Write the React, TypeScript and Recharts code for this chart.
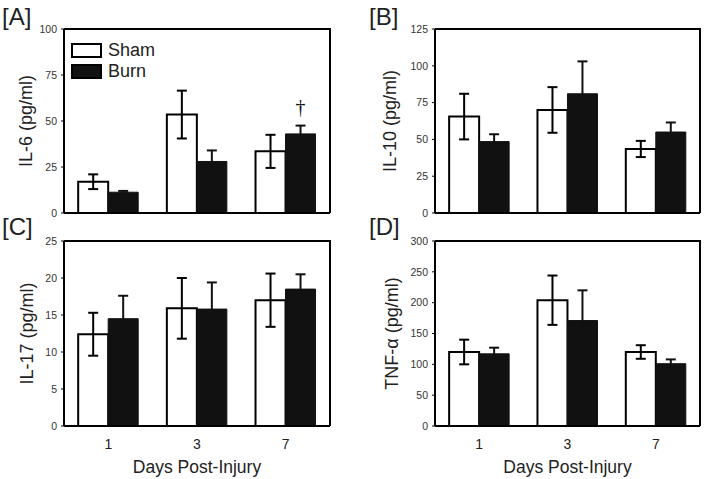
import React from "react";
import { BarChart, Bar, XAxis, YAxis, ErrorBar, Legend, LabelList, Label } from "recharts";

const FONT = "'Liberation Sans', Arial, sans-serif";

const days = ["1", "3", "7"];

const il6Sham = [17, 53.5, 33.5];
const il6ShamErr = [4, 13, 9];
const il6Burn = [11.3, 28, 43];
const il6BurnErr = [0.7, 6, 4.5];
const il6BurnMark = ["", "", "†"];

const il10Sham = [65.5, 70, 43.5];
const il10ShamErr = [15.5, 15.5, 5.5];
const il10Burn = [48.5, 81, 55];
const il10BurnErr = [5, 22, 6.5];

const il17Sham = [12.4, 15.9, 17];
const il17ShamErr = [2.9, 4.1, 3.6];
const il17Burn = [14.5, 15.8, 18.5];
const il17BurnErr = [3.1, 3.6, 2];

const tnfSham = [120, 204, 120];
const tnfShamErr = [20, 40, 11];
const tnfBurn = [117, 171, 101];
const tnfBurnErr = [10, 49, 7];

const il6Ticks = [0, 25, 50, 75, 100];
const il10Ticks = [0, 25, 50, 75, 100, 125];
const il17Ticks = [0, 5, 10, 15, 20, 25];
const tnfTicks = [0, 50, 100, 150, 200, 250, 300];

const legendOrder = ["sham", "burn"];

function build(sham: number[], shamErr: number[], burn: number[], burnErr: number[], marks?: string[]) {
  return days.map((d, i) => ({
    day: d,
    sham: sham[i],
    shamErr: shamErr[i],
    burn: burn[i],
    burnErr: burnErr[i],
    burnMark: marks ? marks[i] : "",
  }));
}

const il6Data = build(il6Sham, il6ShamErr, il6Burn, il6BurnErr, il6BurnMark);
const il10Data = build(il10Sham, il10ShamErr, il10Burn, il10BurnErr);
const il17Data = build(il17Sham, il17ShamErr, il17Burn, il17BurnErr);
const tnfData = build(tnfSham, tnfShamErr, tnfBurn, tnfBurnErr);

const LegendContent = (props: any) => {
  const payload = [...(props.payload || [])].sort(
    (a: any, b: any) => legendOrder.indexOf(a.dataKey) - legendOrder.indexOf(b.dataKey)
  );
  return (
    <div style={{ fontFamily: FONT }}>
      {payload.map((p: any, i: number) => (
        <div key={i} style={{ display: "flex", alignItems: "center", height: 21 }}>
          <div
            style={{
              width: 27,
              height: 11,
              border: "2px solid #000",
              background: p.dataKey === "sham" ? "#fff" : "#111",
              marginRight: 6,
            }}
          />
          <span style={{ fontSize: 18, color: "#222", lineHeight: "21px" }}>{p.value}</span>
        </div>
      ))}
    </div>
  );
};

type PanelProps = {
  left: number;
  top: number;
  width: number;
  height: number;
  margin: { top: number; right: number; left: number; bottom: number };
  yWidth: number;
  xHeight: number;
  showX: boolean;
  data: any[];
  domain: [number, number];
  ticks: number[];
  yLabel: string;
  labelOffset: number;
  showLegend?: boolean;
};

function Panel(p: PanelProps) {
  const axisLine = { stroke: "#000", strokeWidth: 2 };
  const plotLeft = p.margin.left + p.yWidth;
  const plotTop = p.margin.top;
  const plotW = p.width - p.margin.left - p.margin.right - p.yWidth;
  const plotH = p.height - p.margin.top - p.margin.bottom - p.xHeight;
  return (
    <div style={{ position: "absolute", left: p.left, top: p.top, width: p.width, height: p.height }}>
      <BarChart
        width={p.width}
        height={p.height}
        data={p.data}
        margin={p.margin}
        barGap={0}
        barCategoryGap="16%"
      >
        <XAxis
          dataKey="day"
          height={p.xHeight}
          axisLine={axisLine}
          tickLine={false}
          tickSize={0}
          tickMargin={13}
          tick={p.showX ? { fontSize: 14, fill: "#222", fontFamily: FONT } : false}
        >
          {p.showX && (
            <Label
              value="Days Post-Injury"
              position="insideBottom"
              offset={3}
              style={{ fontSize: 17.5, fill: "#222", fontFamily: FONT }}
            />
          )}
        </XAxis>
        <YAxis
          domain={p.domain}
          ticks={p.ticks}
          width={p.yWidth}
          axisLine={axisLine}
          tickLine={{ stroke: "#000", strokeWidth: 1 }}
          tickSize={3}
          tickMargin={4}
          interval={0}
          allowDataOverflow
          tick={{ fontSize: 10.5, fill: "#333", fontFamily: FONT }}
        >
          <Label
            value={p.yLabel}
            angle={-90}
            position="insideLeft"
            offset={p.labelOffset}
            style={{ textAnchor: "middle", fontSize: 18, fill: "#222", fontFamily: FONT }}
          />
        </YAxis>
        <Bar dataKey="sham" name="Sham" fill="#fff" stroke="#000" strokeWidth={2} isAnimationActive={false}>
          <ErrorBar dataKey="shamErr" width={5} stroke="#000" strokeWidth={2} isAnimationActive={false} />
        </Bar>
        <Bar dataKey="burn" name="Burn" fill="#111" stroke="#111" strokeWidth={1} isAnimationActive={false}>
          <ErrorBar dataKey="burnErr" width={5} stroke="#111" strokeWidth={2} isAnimationActive={false} />
          <LabelList
            dataKey="burnMark"
            position="top"
            offset={20}
            fill="#111"
            fontSize={20}
            fontFamily="'Liberation Serif', serif"
            style={{ fill: "#111" }}
          />
        </Bar>
        {p.showLegend && (
          <Legend
            layout="vertical"
            align="center"
            verticalAlign="middle"
            content={LegendContent}
            wrapperStyle={{ left: 71, top: 40, width: 120, height: 44 }}
          />
        )}
      </BarChart>
      <div
        style={{
          position: "absolute",
          left: plotLeft,
          top: plotTop - 1,
          width: plotW + 1,
          height: plotH + 1,
          borderTop: "2px solid #000",
          borderRight: "2px solid #000",
          boxSizing: "border-box",
          pointerEvents: "none",
        }}
      />
    </div>
  );
}

const panelLabel = (text: string, left: number, top: number) => (
  <div
    style={{
      position: "absolute",
      left,
      top,
      fontFamily: FONT,
      fontSize: 24,
      lineHeight: "24px",
      color: "#222",
    }}
  >
    {text}
  </div>
);

export default function App() {
  return (
    <div style={{ position: "absolute", left: 0, top: 0, width: 705, height: 479, background: "#fff" }}>
      <Panel
        left={0}
        top={0}
        width={350}
        height={230}
        margin={{ top: 29, right: 20, left: 0, bottom: 12 }}
        yWidth={64}
        xHeight={5}
        showX={false}
        data={il6Data}
        domain={[0, 100]}
        ticks={il6Ticks}
        yLabel="IL-6 (pg/ml)"
        labelOffset={26}
        showLegend
      />
      <Panel
        left={350}
        top={0}
        width={355}
        height={230}
        margin={{ top: 29, right: 5, left: 0, bottom: 12 }}
        yWidth={85}
        xHeight={5}
        showX={false}
        data={il10Data}
        domain={[0, 125]}
        ticks={il10Ticks}
        yLabel="IL-10 (pg/ml)"
        labelOffset={40}
      />
      <Panel
        left={0}
        top={225}
        width={350}
        height={254}
        margin={{ top: 16, right: 20, left: 0, bottom: 3 }}
        yWidth={64}
        xHeight={50}
        showX
        data={il17Data}
        domain={[0, 25]}
        ticks={il17Ticks}
        yLabel="IL-17 (pg/ml)"
        labelOffset={27}
      />
      <Panel
        left={350}
        top={225}
        width={355}
        height={254}
        margin={{ top: 16, right: 5, left: 0, bottom: 3 }}
        yWidth={85}
        xHeight={50}
        showX
        data={tnfData}
        domain={[0, 300]}
        ticks={tnfTicks}
        yLabel="TNF-α (pg/ml)"
        labelOffset={42}
      />
      {panelLabel("[A]", 2, 5)}
      {panelLabel("[B]", 369, 5)}
      {panelLabel("[C]", 2, 215)}
      {panelLabel("[D]", 369, 215)}
    </div>
  );
}
